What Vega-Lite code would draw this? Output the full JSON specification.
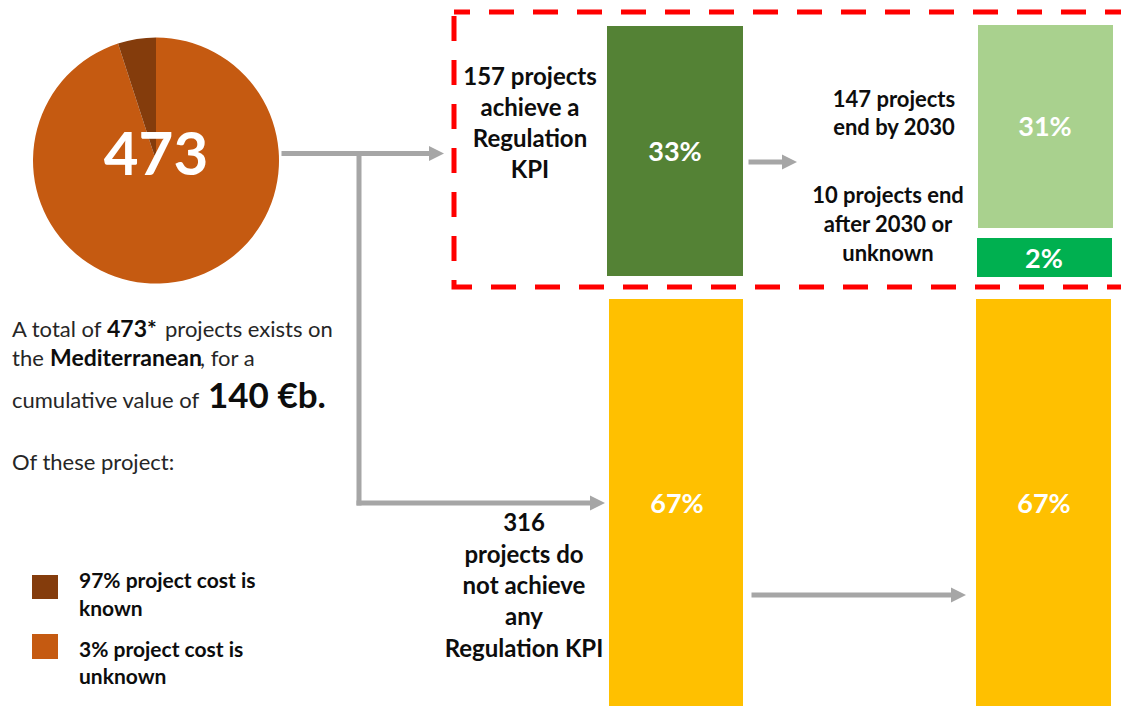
{
  "$schema": "https://vega.github.io/schema/vega-lite/v6.json",
  "width": 1121,
  "height": 706,
  "autosize": {"type": "none"},
  "padding": 0,
  "background": "white",
  "view": {"stroke": null},
  "config": {"font": "Lato"},
  "datasets": {
    "pie": [
      {"part": "Cost unknown", "share": 95, "order": 1, "cx": 156, "cy": 160.5},
      {"part": "Cost known", "share": 5, "order": 2, "cx": 156, "cy": 160.5}
    ],
    "legend": [
      {"part": "Cost known", "left": 32, "right": 58, "top": 575, "bottom": 599},
      {"part": "Cost unknown", "left": 32, "right": 58, "top": 634, "bottom": 659}
    ],
    "bars": [
      {"stage": "Regulation KPI", "segment": "Achieve a Regulation KPI", "share": 0.33, "left": 607, "right": 743, "top": 26, "bottom": 276, "cx": 675, "cy": 161},
      {"stage": "Regulation KPI", "segment": "Do not achieve any Regulation KPI", "share": 0.67, "left": 609, "right": 743, "top": 299, "bottom": 706, "cx": 677, "cy": 513},
      {"stage": "End date", "segment": "End by 2030", "share": 0.31, "left": 978, "right": 1113, "top": 25, "bottom": 228, "cx": 1045, "cy": 136},
      {"stage": "End date", "segment": "End after 2030 or unknown", "share": 0.02, "left": 977, "right": 1112, "top": 238, "bottom": 277, "cx": 1044, "cy": 268},
      {"stage": "End date", "segment": "Do not achieve any Regulation KPI", "share": 0.67, "left": 976, "right": 1111, "top": 299, "bottom": 706, "cx": 1044, "cy": 513}
    ],
    "box": [
      {"name": "Projects achieving a Regulation KPI", "left": 454, "right": 1135, "top": 12, "bottom": 287}
    ],
    "arrowLines": [
      {"x": 284, "y": 153.5, "x2": 430, "y2": 153.5},
      {"x": 359, "y": 153.5, "x2": 359, "y2": 503},
      {"x": 359, "y": 503, "x2": 591, "y2": 503},
      {"x": 751, "y": 162, "x2": 783, "y2": 162},
      {"x": 754, "y": 595, "x2": 952, "y2": 595}
    ],
    "arrowHeads": [
      {"x": 444, "y": 153.5},
      {"x": 605, "y": 503},
      {"x": 797, "y": 162},
      {"x": 966, "y": 595}
    ],
    "labels": [
      {"role": "total", "text": "473", "x": 156, "y": 175},
      {"role": "box", "text": "157 projects", "x": 530, "y": 85},
      {"role": "box", "text": "achieve a", "x": 530, "y": 116},
      {"role": "box", "text": "Regulation", "x": 530, "y": 147},
      {"role": "box", "text": "KPI", "x": 530, "y": 178},
      {"role": "box", "text": "316", "x": 524, "y": 531},
      {"role": "box", "text": "projects do", "x": 524, "y": 563},
      {"role": "box", "text": "not achieve", "x": 524, "y": 594},
      {"role": "box", "text": "any", "x": 524, "y": 625},
      {"role": "box", "text": "Regulation KPI", "x": 524, "y": 657},
      {"role": "note", "text": "147 projects", "x": 894, "y": 107},
      {"role": "note", "text": "end by 2030", "x": 894, "y": 135},
      {"role": "note", "text": "10 projects end", "x": 888, "y": 203},
      {"role": "note", "text": "after 2030 or", "x": 888, "y": 232},
      {"role": "note", "text": "unknown", "x": 888, "y": 261},
      {"role": "para", "text": "A total of", "x": 12, "y": 337},
      {"role": "para", "text": "projects exists on", "x": 165, "y": 337},
      {"role": "para", "text": "the", "x": 12, "y": 366},
      {"role": "para", "text": ", for a", "x": 200, "y": 366},
      {"role": "para", "text": "cumulative value of", "x": 12, "y": 408},
      {"role": "para", "text": "Of these project:", "x": 12, "y": 470},
      {"role": "paraBold", "text": "473*", "x": 107, "y": 337},
      {"role": "paraBold", "text": "Mediterranean", "x": 50, "y": 366},
      {"role": "big", "text": "140 €b.", "x": 208, "y": 408},
      {"role": "legend", "text": "97% project cost is", "x": 79, "y": 588},
      {"role": "legend", "text": "known", "x": 79, "y": 616},
      {"role": "legend", "text": "3% project cost is", "x": 79, "y": 657},
      {"role": "legend", "text": "unknown", "x": 79, "y": 684}
    ]
  },
  "layer": [
    {
      "data": {"name": "box"},
      "mark": {"type": "rect", "fill": null, "stroke": "#ff0000", "strokeWidth": 5, "strokeDash": [25, 19], "strokeDashOffset": 9},
      "encoding": {
        "x": {"field": "left", "type": "quantitative", "scale": {"domain": [0, 1121], "nice": false, "zero": false}, "axis": null},
        "x2": {"field": "right"},
        "y": {"field": "top", "type": "quantitative", "scale": {"domain": [0, 706], "reverse": true, "nice": false, "zero": false}, "axis": null},
        "y2": {"field": "bottom"}
      }
    },
    {
      "data": {"name": "bars"},
      "mark": {"type": "rect"},
      "encoding": {
        "x": {"field": "left", "type": "quantitative", "scale": {"domain": [0, 1121], "nice": false, "zero": false}, "axis": null},
        "x2": {"field": "right"},
        "y": {"field": "top", "type": "quantitative", "scale": {"domain": [0, 706], "reverse": true, "nice": false, "zero": false}, "axis": null},
        "y2": {"field": "bottom"},
        "color": {"field": "segment", "type": "nominal", "legend": null,
          "scale": {"domain": ["Cost known", "Cost unknown", "Achieve a Regulation KPI", "End by 2030", "End after 2030 or unknown", "Do not achieve any Regulation KPI"],
                    "range": ["#843c0c", "#c55a11", "#548235", "#a9d18e", "#00b050", "#ffc000"]}}
      }
    },
    {
      "data": {"name": "bars"},
      "mark": {"type": "text", "color": "white", "fontWeight": "bold", "fontSize": 27, "align": "center", "baseline": "alphabetic"},
      "encoding": {
        "x": {"field": "cx", "type": "quantitative", "scale": {"domain": [0, 1121], "nice": false, "zero": false}, "axis": null},
        "y": {"field": "cy", "type": "quantitative", "scale": {"domain": [0, 706], "reverse": true, "nice": false, "zero": false}, "axis": null},
        "text": {"field": "share", "type": "quantitative", "format": ".0%"}
      }
    },
    {
      "data": {"name": "arrowLines"},
      "mark": {"type": "rule", "color": "#a6a6a6", "strokeWidth": 5, "strokeCap": "square"},
      "encoding": {
        "x": {"field": "x", "type": "quantitative", "scale": {"domain": [0, 1121], "nice": false, "zero": false}, "axis": null},
        "x2": {"field": "x2"},
        "y": {"field": "y", "type": "quantitative", "scale": {"domain": [0, 706], "reverse": true, "nice": false, "zero": false}, "axis": null},
        "y2": {"field": "y2"}
      }
    },
    {
      "data": {"name": "arrowHeads"},
      "mark": {"type": "point", "shape": "M-2,-1L0,0L-2,1Z", "size": 225, "filled": true, "color": "#a6a6a6", "opacity": 1, "strokeWidth": 0},
      "encoding": {
        "x": {"field": "x", "type": "quantitative", "scale": {"domain": [0, 1121], "nice": false, "zero": false}, "axis": null},
        "y": {"field": "y", "type": "quantitative", "scale": {"domain": [0, 706], "reverse": true, "nice": false, "zero": false}, "axis": null}
      }
    },
    {
      "data": {"name": "pie"},
      "mark": {"type": "arc", "radius": 123},
      "encoding": {
        "x": {"field": "cx", "type": "quantitative", "scale": {"domain": [0, 1121], "nice": false, "zero": false}, "axis": null},
        "y": {"field": "cy", "type": "quantitative", "scale": {"domain": [0, 706], "reverse": true, "nice": false, "zero": false}, "axis": null},
        "theta": {"field": "share", "type": "quantitative", "stack": true},
        "order": {"field": "order", "type": "quantitative"},
        "color": {"field": "part", "type": "nominal", "legend": null,
          "scale": {"domain": ["Cost known", "Cost unknown", "Achieve a Regulation KPI", "End by 2030", "End after 2030 or unknown", "Do not achieve any Regulation KPI"],
                    "range": ["#843c0c", "#c55a11", "#548235", "#a9d18e", "#00b050", "#ffc000"]}}
      }
    },
    {
      "data": {"name": "legend"},
      "mark": {"type": "rect"},
      "encoding": {
        "x": {"field": "left", "type": "quantitative", "scale": {"domain": [0, 1121], "nice": false, "zero": false}, "axis": null},
        "x2": {"field": "right"},
        "y": {"field": "top", "type": "quantitative", "scale": {"domain": [0, 706], "reverse": true, "nice": false, "zero": false}, "axis": null},
        "y2": {"field": "bottom"},
        "color": {"field": "part", "type": "nominal", "legend": null,
          "scale": {"domain": ["Cost known", "Cost unknown", "Achieve a Regulation KPI", "End by 2030", "End after 2030 or unknown", "Do not achieve any Regulation KPI"],
                    "range": ["#843c0c", "#c55a11", "#548235", "#a9d18e", "#00b050", "#ffc000"]}}
      }
    },
    {
      "data": {"name": "labels"},
      "transform": [{"filter": "datum.role === 'total'"}],
      "mark": {"type": "text", "color": "white", "fontWeight": "bold", "fontSize": 60, "align": "center", "baseline": "alphabetic"},
      "encoding": {
        "x": {"field": "x", "type": "quantitative", "scale": {"domain": [0, 1121], "nice": false, "zero": false}, "axis": null},
        "y": {"field": "y", "type": "quantitative", "scale": {"domain": [0, 706], "reverse": true, "nice": false, "zero": false}, "axis": null},
        "text": {"field": "text"}
      }
    },
    {
      "data": {"name": "labels"},
      "transform": [{"filter": "datum.role === 'box'"}],
      "mark": {"type": "text", "color": "#0d0d0d", "fontWeight": "bold", "fontSize": 24, "align": "center", "baseline": "alphabetic"},
      "encoding": {
        "x": {"field": "x", "type": "quantitative", "scale": {"domain": [0, 1121], "nice": false, "zero": false}, "axis": null},
        "y": {"field": "y", "type": "quantitative", "scale": {"domain": [0, 706], "reverse": true, "nice": false, "zero": false}, "axis": null},
        "text": {"field": "text"}
      }
    },
    {
      "data": {"name": "labels"},
      "transform": [{"filter": "datum.role === 'note'"}],
      "mark": {"type": "text", "color": "#0d0d0d", "fontWeight": "bold", "fontSize": 22, "align": "center", "baseline": "alphabetic"},
      "encoding": {
        "x": {"field": "x", "type": "quantitative", "scale": {"domain": [0, 1121], "nice": false, "zero": false}, "axis": null},
        "y": {"field": "y", "type": "quantitative", "scale": {"domain": [0, 706], "reverse": true, "nice": false, "zero": false}, "axis": null},
        "text": {"field": "text"}
      }
    },
    {
      "data": {"name": "labels"},
      "transform": [{"filter": "datum.role === 'para'"}],
      "mark": {"type": "text", "color": "#262626", "fontSize": 22, "align": "left", "baseline": "alphabetic"},
      "encoding": {
        "x": {"field": "x", "type": "quantitative", "scale": {"domain": [0, 1121], "nice": false, "zero": false}, "axis": null},
        "y": {"field": "y", "type": "quantitative", "scale": {"domain": [0, 706], "reverse": true, "nice": false, "zero": false}, "axis": null},
        "text": {"field": "text"}
      }
    },
    {
      "data": {"name": "labels"},
      "transform": [{"filter": "datum.role === 'paraBold'"}],
      "mark": {"type": "text", "color": "#0d0d0d", "fontWeight": "bold", "fontSize": 23, "align": "left", "baseline": "alphabetic"},
      "encoding": {
        "x": {"field": "x", "type": "quantitative", "scale": {"domain": [0, 1121], "nice": false, "zero": false}, "axis": null},
        "y": {"field": "y", "type": "quantitative", "scale": {"domain": [0, 706], "reverse": true, "nice": false, "zero": false}, "axis": null},
        "text": {"field": "text"}
      }
    },
    {
      "data": {"name": "labels"},
      "transform": [{"filter": "datum.role === 'big'"}],
      "mark": {"type": "text", "color": "#0d0d0d", "fontWeight": "bold", "fontSize": 35, "align": "left", "baseline": "alphabetic"},
      "encoding": {
        "x": {"field": "x", "type": "quantitative", "scale": {"domain": [0, 1121], "nice": false, "zero": false}, "axis": null},
        "y": {"field": "y", "type": "quantitative", "scale": {"domain": [0, 706], "reverse": true, "nice": false, "zero": false}, "axis": null},
        "text": {"field": "text"}
      }
    },
    {
      "data": {"name": "labels"},
      "transform": [{"filter": "datum.role === 'legend'"}],
      "mark": {"type": "text", "color": "#0d0d0d", "fontWeight": "bold", "fontSize": 21, "align": "left", "baseline": "alphabetic"},
      "encoding": {
        "x": {"field": "x", "type": "quantitative", "scale": {"domain": [0, 1121], "nice": false, "zero": false}, "axis": null},
        "y": {"field": "y", "type": "quantitative", "scale": {"domain": [0, 706], "reverse": true, "nice": false, "zero": false}, "axis": null},
        "text": {"field": "text"}
      }
    }
  ]
}
